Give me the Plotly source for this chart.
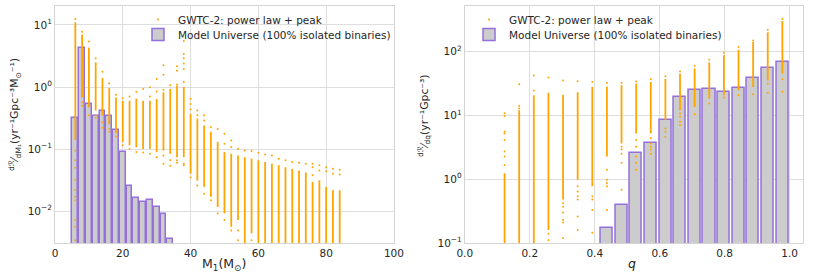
import plotly.graph_objects as go

# ---------------- LEFT PANEL DATA (primary mass) ----------------
m1_bin_centers = [6, 8, 10, 12, 14, 16, 18, 20, 22, 24, 26, 28, 30, 32, 34]
m1_model_rate = [0.314, 4.22, 0.533, 0.343, 0.412, 0.347, 0.202, 0.0906,
                 0.0252, 0.0162, 0.0139, 0.0154, 0.0116, 0.00885, 0.00356]

m1_sample_x = [6, 8, 10, 12, 14, 16, 18, 20, 22, 24, 26, 28, 30, 32, 34, 36, 38, 40,
               42, 44, 46, 48, 50, 52, 54, 56, 58, 60, 62, 64, 66, 68, 70, 72, 74,
               76, 78, 80, 82, 84]
m1_dense_hi = [11, 7.0, 4.3, 2.5, 1.4, 0.96, 0.68, 0.6, 0.6, 0.65, 0.6, 0.6, 0.64,
               0.82, 0.93, 1.05, 1.0, 0.37, 0.31, 0.24, 0.19, 0.13, 0.0895, 0.084,
               0.079, 0.074, 0.07, 0.066, 0.062, 0.058, 0.055, 0.051, 0.048, 0.045,
               0.042, 0.0296, 0.0314, 0.0246, 0.0217, 0.0217]
m1_dense_lo = [0.14, 0.68, 0.47, 0.42, 0.35, 0.25, 0.18, 0.13, 0.115, 0.107, 0.1, 0.1,
               0.09, 0.095, 0.084, 0.074, 0.074, 0.04, 0.031, 0.0246, 0.017, 0.0117,
               0.0092, 0.0056, 0.0072, 0.0028, 0.0044, 0.0028, 0.0028, 0.0028, 0.0028,
               0.0028, 0.0028, 0.0028, 0.0028, 0.0028, 0.0028, 0.0028, 0.0028, 0.0028]
m1_sparse = [
    [12.5, 0.095, 0.066, 0.05, 0.032, 0.022, 0.017, 0.015, 0.0072, 0.0056, 0.0034],
    [7.8, 0.57, 0.5],
    [5.4, 0.35],
    [2.9, 0.35, 0.32],
    [1.76, 0.27, 0.22],
    [1.15, 0.21, 0.19],
    [0.75, 0.16],
    [0.66, 0.115],
    [0.7, 0.1],
    [0.84, 0.09],
    [0.93, 0.088],
    [0.99, 0.7, 0.084],
    [1.34, 0.85, 0.074],
    [2.25, 1.58, 0.9, 0.079, 0.058],
    [1.07, 0.066, 0.054],
    [2.15, 1.83, 1.1, 0.066, 0.06],
    [5.5, 3.4, 2.9, 2.4, 1.95, 1.2, 0.058, 0.055],
    [0.64, 0.53, 0.44, 0.035],
    [0.42, 0.35, 0.026],
    [0.35, 0.29, 0.019],
    [0.225, 0.015],
    [0.21, 0.0092],
    [0.176, 0.122, 0.0072],
    [0.138, 0.108, 0.0049],
    [0.101, 0.0049, 0.0034],
    [0.095],
    [0.093, 0.0034],
    [0.087],
    [0.082],
    [0.079],
    [0.070],
    [0.066],
    [0.062],
    [0.060],
    [0.058],
    [0.058, 0.051, 0.038],
    [0.0547, 0.045],
    [0.051, 0.044],
    [0.048, 0.040],
    [0.0465, 0.039],
]
m1_ticks = [0, 20, 40, 60, 80, 100]
m1_ytick_vals = [0.01, 0.1, 1, 10]
m1_ytick_text = ["10<sup>−2</sup>", "10<sup>−1</sup>", "10<sup>0</sup>", "10<sup>1</sup>"]

# ---------------- RIGHT PANEL DATA (mass ratio) ----------------
q_bin_centers = [0.4375, 0.4825, 0.5275, 0.5725, 0.6175, 0.6625, 0.7075, 0.7525,
                 0.7975, 0.8425, 0.8875, 0.9325, 0.9775]
q_model_rate = [0.172, 0.394, 2.54, 3.68, 8.3, 19.4, 25.2, 26.1, 23.5, 27.1, 37.9, 55.5, 68.0]

q_sample_x = [0.1225, 0.1675, 0.2125, 0.2575, 0.3025, 0.3475, 0.3925, 0.4375, 0.4825,
              0.5275, 0.5725, 0.6175, 0.6625, 0.7075, 0.7525, 0.7975, 0.8425, 0.8875,
              0.9325, 0.9775]
q_dense_hi = [1.24, 12, 20.5, 22.4, 21, 23, 28, 28, 29.5, 31, 33, 37, 44.8, 53.7, 67,
              87, 106, 140, 200, 300]
q_dense_lo = [0.09, 0.09, 0.09, 0.16, 0.48, 0.98, 0.77, 2.25, 3.6, 5.2, 5.2, 8.4, 12,
              13.5, 18.3, 20.6, 24.6, 27.7, 35, 45]
q_sparse = [
    [10.7, 9.7, 5.5, 5.2, 4.1, 2.7, 2.25, 1.67],
    [30.5, 13.9, 12.8],
    [42, 24.5],
    [39, 0.14, 0.11],
    [35, 0.42, 0.37, 0.30, 0.23, 0.21, 0.12],
    [34, 0.77, 0.64, 0.54, 0.48, 0.26, 0.16],
    [33, 0.54, 0.48, 0.33, 0.145],
    [32, 1.4, 0.98, 0.87, 0.77, 0.33],
    [32, 3.2, 2.9, 2.5, 1.8, 0.68],
    [33.6, 4.1, 3.2, 2.25, 1.8, 1.4],
    [36.6, 4.4, 3.6, 3.2, 2.9, 2.5],
    [40.6, 6.2, 5.5, 4.6],
    [48.5, 10.6, 9.5, 7.9, 7.0],
    [59.6, 10.4],
    [74, 15.3],
    [95, 19],
    [117, 20.6],
    [148, 21.3],
    [217, 31, 22.4],
    [322, 36.6, 23.3],
]
q_ticks = [0.0, 0.2, 0.4, 0.6, 0.8, 1.0]
q_tick_text = ["0.0", "0.2", "0.4", "0.6", "0.8", "1.0"]
q_ytick_vals = [0.1, 1, 10, 100]
q_ytick_text = ["10<sup>−1</sup>", "10<sup>0</sup>", "10<sup>1</sup>", "10<sup>2</sup>"]

SAMPLE_LABEL = "GWTC-2: power law + peak"
MODEL_LABEL = "Model Universe (100% isolated binaries)"

ORANGE = "#FFA500"
BAR_FILL = "#cccccc"
BAR_EDGE = "#9370DB"
GRID = "#dedede"
FRAME = "#d4d4d4"
TEXT = "#262626"
FONT = "DejaVu Sans"


def column_lines(xs, los, his):
    X, Y = [], []
    for x, lo, hi in zip(xs, los, his):
        X += [x, x, None]
        Y += [lo, hi, None]
    return X, Y


def sparse_points(xs, lists):
    X, Y = [], []
    for x, vals in zip(xs, lists):
        for v in vals:
            X.append(x)
            Y.append(v)
    return X, Y


fig = go.Figure()

# ---- left panel ----
fig.add_trace(go.Bar(x=m1_bin_centers, y=m1_model_rate, width=1.72,
                     marker=dict(color=BAR_FILL, line=dict(color=BAR_EDGE, width=1.5)),
                     name=MODEL_LABEL, legend="legend2",
                     xaxis="x", yaxis="y"))
lx, ly = column_lines(m1_sample_x, m1_dense_lo, m1_dense_hi)
fig.add_trace(go.Scatter(x=lx, y=ly, mode="lines", line=dict(color=ORANGE, width=1.8),
                         showlegend=False, hoverinfo="skip", xaxis="x", yaxis="y"))
px_, py_ = sparse_points(m1_sample_x, m1_sparse)
fig.add_trace(go.Scatter(x=px_, y=py_, mode="markers",
                         marker=dict(color=ORANGE, size=2, line=dict(width=0)),
                         name=SAMPLE_LABEL, legend="legend",
                         xaxis="x", yaxis="y"))

# ---- right panel ----
fig.add_trace(go.Bar(x=q_bin_centers, y=q_model_rate, width=0.0375,
                     marker=dict(color=BAR_FILL, line=dict(color=BAR_EDGE, width=1.5)),
                     name=MODEL_LABEL, legend="legend4",
                     xaxis="x2", yaxis="y2"))
qx, qy = column_lines(q_sample_x, q_dense_lo, q_dense_hi)
fig.add_trace(go.Scatter(x=qx, y=qy, mode="lines", line=dict(color=ORANGE, width=1.8),
                         showlegend=False, hoverinfo="skip", xaxis="x2", yaxis="y2"))
sx, sy = sparse_points(q_sample_x, q_sparse)
fig.add_trace(go.Scatter(x=sx, y=sy, mode="markers",
                         marker=dict(color=ORANGE, size=2, line=dict(width=0)),
                         name=SAMPLE_LABEL, legend="legend3",
                         xaxis="x2", yaxis="y2"))

axis_common = dict(showgrid=True, gridcolor=GRID, gridwidth=1, zeroline=False,
                   showline=True, linecolor=FRAME, linewidth=1, mirror=True,
                   ticks="", tickfont=dict(family=FONT, size=10.5, color=TEXT))

L, R, T, B = 55, 6, 5, 34
W, H = 818, 277
pw = W - L - R
ph = H - T - B


def px2paper_x(p):
    return (p - L) / pw


def px2paper_y(p):
    return (H - B - p) / ph


def legend_at(xpx, ypx):
    return dict(x=px2paper_x(xpx), y=px2paper_y(ypx), xanchor="left", yanchor="top",
                bgcolor="rgba(0,0,0,0)", borderwidth=0,
                font=dict(family=FONT, size=10.5, color=TEXT))


fig.update_layout(
    width=W, height=H,
    margin=dict(l=L, r=R, t=T, b=B, pad=0),
    paper_bgcolor="white", plot_bgcolor="white",
    font=dict(family=FONT, color=TEXT, size=10.5),
    bargap=0,
    xaxis=dict(domain=[0, px2paper_x(398)], range=[0, 100], tickvals=m1_ticks,
               anchor="y", **axis_common),
    yaxis=dict(type="log", range=[-2.513, 1.305], tickvals=m1_ytick_vals,
               ticktext=m1_ytick_text, anchor="x", **axis_common),
    xaxis2=dict(domain=[px2paper_x(469.7), 1], range=[0, 1.041], tickvals=q_ticks,
                ticktext=q_tick_text, anchor="y2", **axis_common),
    yaxis2=dict(type="log", range=[-1, 2.71], tickvals=q_ytick_vals,
                ticktext=q_ytick_text, anchor="x2", **axis_common),
    legend=legend_at(139, 4),
    legend2=legend_at(139, 19),
    legend3=legend_at(474, 4),
    legend4=legend_at(474, 19),
    showlegend=True,
)

annots = [
    dict(text="M<sub>1</sub>(M<sub>⊙</sub>)", x=px2paper_x(226), y=px2paper_y(265),
         xanchor="center", yanchor="middle",
         xref="paper", yref="paper", showarrow=False, font=dict(size=12.5)),
    dict(text="<i>q</i>", x=px2paper_x(639), y=px2paper_y(264),
         xanchor="center", yanchor="middle",
         xref="paper", yref="paper", showarrow=False, font=dict(size=12.5)),
    dict(text="<sup>dℛ</sup>⁄<sub>dM₁</sub>(yr⁻¹Gpc⁻³M<sub>⊙</sub>⁻¹)",
         x=px2paper_x(14), y=px2paper_y(114), xref="paper", yref="paper",
         xanchor="center", yanchor="middle",
         showarrow=False, textangle=-90, font=dict(size=10.8)),
    dict(text="<sup>dℛ</sup>⁄<sub>dq</sub>(yr⁻¹Gpc⁻³)",
         x=px2paper_x(428), y=px2paper_y(115), xref="paper", yref="paper",
         xanchor="center", yanchor="middle",
         showarrow=False, textangle=-90, font=dict(size=10.8)),
]
fig.update_layout(annotations=annots)

fig.write_html("out.html", post_script="document.body.style.margin='0';",
               config={"displayModeBar": False})
